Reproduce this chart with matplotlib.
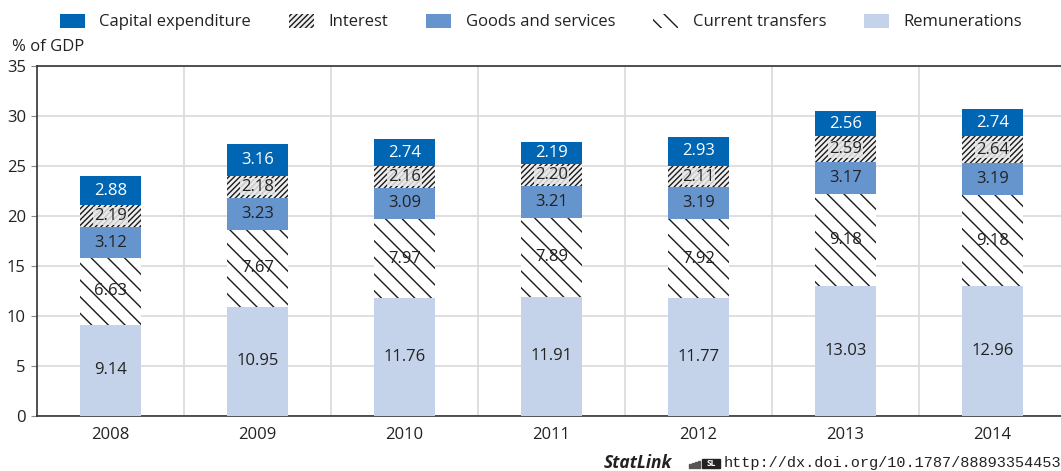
import matplotlib
matplotlib.use('agg')
from matplotlib import pyplot as plt
from matplotlib.patches import Patch, Rectangle
import numpy as np

plt.rcParams['font.family'] = ['Open Sans', 'DejaVu Sans']
plt.rcParams['hatch.linewidth'] = 1.0

years = ['2008', '2009', '2010', '2011', '2012', '2013', '2014']
remunerations = [9.14, 10.95, 11.76, 11.91, 11.77, 13.03, 12.96]
current_transfers = [6.63, 7.67, 7.97, 7.89, 7.92, 9.18, 9.18]
goods_services = [3.12, 3.23, 3.09, 3.21, 3.19, 3.17, 3.19]
interest = [2.19, 2.18, 2.16, 2.20, 2.11, 2.59, 2.64]
capital_exp = [2.88, 3.16, 2.74, 2.19, 2.93, 2.56, 2.74]

# bottom -> top
series = [
    ('Remunerations', remunerations, dict(facecolor='#c5d3ea', edgecolor='none'), '#222222', None),
    ('Current transfers', current_transfers, dict(facecolor='white', hatch='\\\\', edgecolor='#1a1a1a', linewidth=0), '#222222', None),
    ('Goods and services', goods_services, dict(facecolor='#6694cc', edgecolor='none'), '#222222', None),
    ('Interest', interest, dict(facecolor='#f0f0f0', hatch='//////', edgecolor='#1a1a1a', linewidth=0), '#222222',
     dict(facecolor='#e8e8e8', edgecolor='none', alpha=0.85, pad=0.5)),
    ('Capital expenditure', capital_exp, dict(facecolor='#0066b3', edgecolor='none'), 'white', None),
]

fig = plt.figure(figsize=(10.61, 4.71), dpi=100)
ax = fig.add_axes([37 / 1061, 1 - 416 / 471, 1029 / 1061, 350 / 471])

x = np.arange(len(years))
bottom = np.zeros(len(years))
handles = {}
for name, vals, style, tcol, box in series:
    vals = np.array(vals)
    ax.bar(x, vals, 0.41, bottom=bottom, zorder=3, **style)
    for xi, b, v in zip(x, bottom, vals):
        ax.text(xi, b + v / 2, f'{v:.2f}', ha='center', va='center', fontsize=12,
                color=tcol, zorder=4, bbox=box)
    bottom += vals
    handles[name] = Patch(**style)

ax.set_xlim(-0.5, len(years) - 0.5)
ax.set_ylim(0, 35)
ax.set_yticks(range(0, 36, 5))
ax.set_xticks(x)
ax.set_xticklabels(years)
ax.tick_params(axis='both', labelsize=12, colors='#222222', length=0, pad=8)
ax.tick_params(axis='y', length=4, color='#888888', pad=4, direction='out')

# grid: horizontal at ticks, vertical between years
ax.yaxis.grid(True, color='#d9d9d9', linewidth=1.2, zorder=0)
for xv in x[:-1] + 0.5:
    ax.axvline(xv, color='#d9d9d9', linewidth=1.2, zorder=0)
ax.set_axisbelow(True)
for s in ['left', 'bottom', 'top']:
    ax.spines[s].set_color('#333333')
    ax.spines[s].set_linewidth(1.2)
ax.spines['right'].set_visible(False)

fig.text(12 / 1061, 1 - 47 / 471, '% of GDP', fontsize=12, color='#222222', va='center')

order = ['Capital expenditure', 'Interest', 'Goods and services', 'Current transfers', 'Remunerations']
leg = fig.legend([handles[n] for n in order], order, loc='center', ncol=5,
                 bbox_to_anchor=(0.51, 1 - 22 / 471), frameon=False, fontsize=12,
                 handlelength=1.5, handleheight=0.9, columnspacing=2.3, handletextpad=0.85)
for t in leg.get_texts():
    t.set_color('#222222')

# StatLink footer with small logo
fig.text(604 / 1061, 1 - 463 / 471, 'StatLink', fontsize=12.5, fontweight='bold', style='italic',
         color='#222222', va='center')
W, H = 1061, 471
for i in range(4):
    fig.patches.append(Rectangle(((689 + i * 3) / W, 1 - 468 / H), 1.5 / W, (4 + i) / H,
                                 transform=fig.transFigure, color='#555555'))
fig.patches.append(Rectangle((702 / W, 1 - 468 / H), 18 / W, 9 / H,
                             transform=fig.transFigure, color='#222222'))
fig.text(711 / W, 1 - 463.5 / H, 'SL', fontsize=6, fontweight='bold', color='white',
         ha='center', va='center')
fig.text(724 / W, 1 - 463 / H, 'http://dx.doi.org/10.1787/888933544533',
         family='Liberation Mono', fontsize=11, color='#222222', va='center')

fig.savefig('out.png', dpi=100)
